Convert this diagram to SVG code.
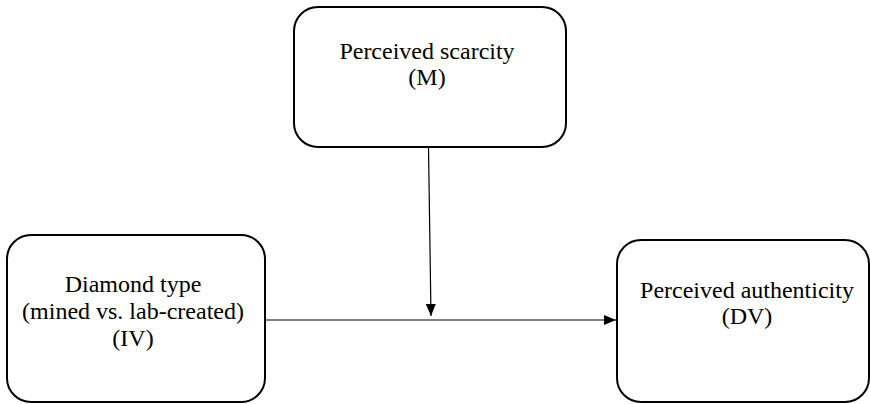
<svg xmlns="http://www.w3.org/2000/svg" width="870" height="404" viewBox="0 0 870 404">
  <style>
    .box { fill: #ffffff; stroke: #000000; stroke-width: 2; }
    .label { font-family: "Liberation Serif", "Times New Roman", serif; font-size: 24px; fill: #000000; text-anchor: middle; }
    .link { stroke: #000000; stroke-width: 1.2; fill: none; marker-end: url(#arrow); }
  </style>
  <defs>
    <marker id="arrow" markerWidth="12" markerHeight="10" refX="12" refY="5" orient="auto" markerUnits="userSpaceOnUse">
      <path d="M0,0 L12,5 L0,10 Z" fill="#000000"/>
    </marker>
  </defs>
  <rect width="870" height="404" fill="#ffffff"/>

  <g id="mediator">
    <rect class="box" x="294" y="7" width="272" height="140" rx="24" ry="24"/>
    <text class="label" x="427" y="59">Perceived scarcity</text>
    <text class="label" x="427" y="85">(M)</text>
  </g>

  <g id="independent">
    <rect class="box" x="7" y="235" width="258" height="167" rx="24" ry="24"/>
    <text class="label" x="133" y="292">Diamond type</text>
    <text class="label" x="133" y="319">(mined vs. lab-created)</text>
    <text class="label" x="133" y="346">(IV)</text>
  </g>

  <g id="dependent">
    <rect class="box" x="617" y="240" width="252" height="162" rx="24" ry="24"/>
    <text class="label" x="747" y="298">Perceived authenticity</text>
    <text class="label" x="747" y="324">(DV)</text>
  </g>

  <g id="connectors">
    <line class="link" x1="428.5" y1="147" x2="431" y2="316"/>
    <line class="link" x1="265" y1="320" x2="616" y2="320"/>
  </g>
</svg>
